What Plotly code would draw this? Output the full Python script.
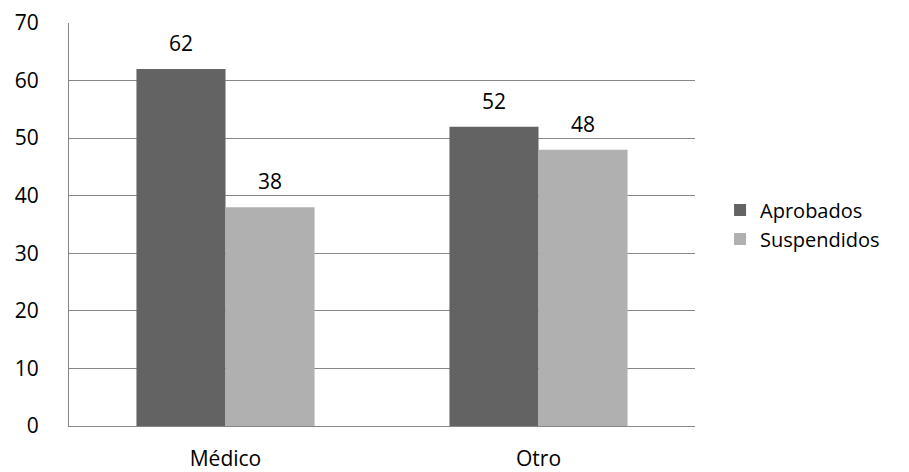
import plotly.graph_objects as go

categories = ["Médico", "Otro"]
aprobados = [62, 52]
suspendidos = [38, 48]
series = [("Aprobados", aprobados, "#636363"), ("Suspendidos", suspendidos, "#b0b0b0")]

fig = go.Figure()
for name, vals, col in series:
    fig.add_trace(go.Bar(name=name, x=categories, y=vals, marker_color=col,
                         marker_line_width=0))

bar_px = 89
offsets = [-bar_px / 2, bar_px / 2]
for (name, vals, col), off in zip(series, offsets):
    for c, v in zip(categories, vals):
        fig.add_annotation(x=c, y=v, text=str(v), showarrow=False, xshift=off,
                           yanchor="bottom", yshift=10,
                           font=dict(size=21, color="#000000", family="Open Sans"))

fig.update_layout(
    width=909, height=472,
    margin=dict(l=69, r=214, t=23, b=46),
    plot_bgcolor="white", paper_bgcolor="white",
    barmode="group", bargap=0.431, bargroupgap=0,
    font=dict(family="Open Sans", size=20, color="#000000"),
    showlegend=True,
    legend=dict(x=1.04, y=0.5, xanchor="left", yanchor="middle",
                font=dict(size=20), itemwidth=30, tracegroupgap=0),
)
fig.update_yaxes(range=[0, 70], dtick=10, showgrid=True, gridcolor="#868686", gridwidth=1,
                 showline=True, linecolor="#868686", linewidth=1, ticks="",
                 tickfont=dict(size=21), ticklabelstandoff=25, zeroline=False,
                 automargin=False)
fig.update_xaxes(showline=True, linecolor="#868686", linewidth=1, ticks="",
                 tickfont=dict(size=21), ticklabelstandoff=14, automargin=False)

fig.write_html("out.html")
